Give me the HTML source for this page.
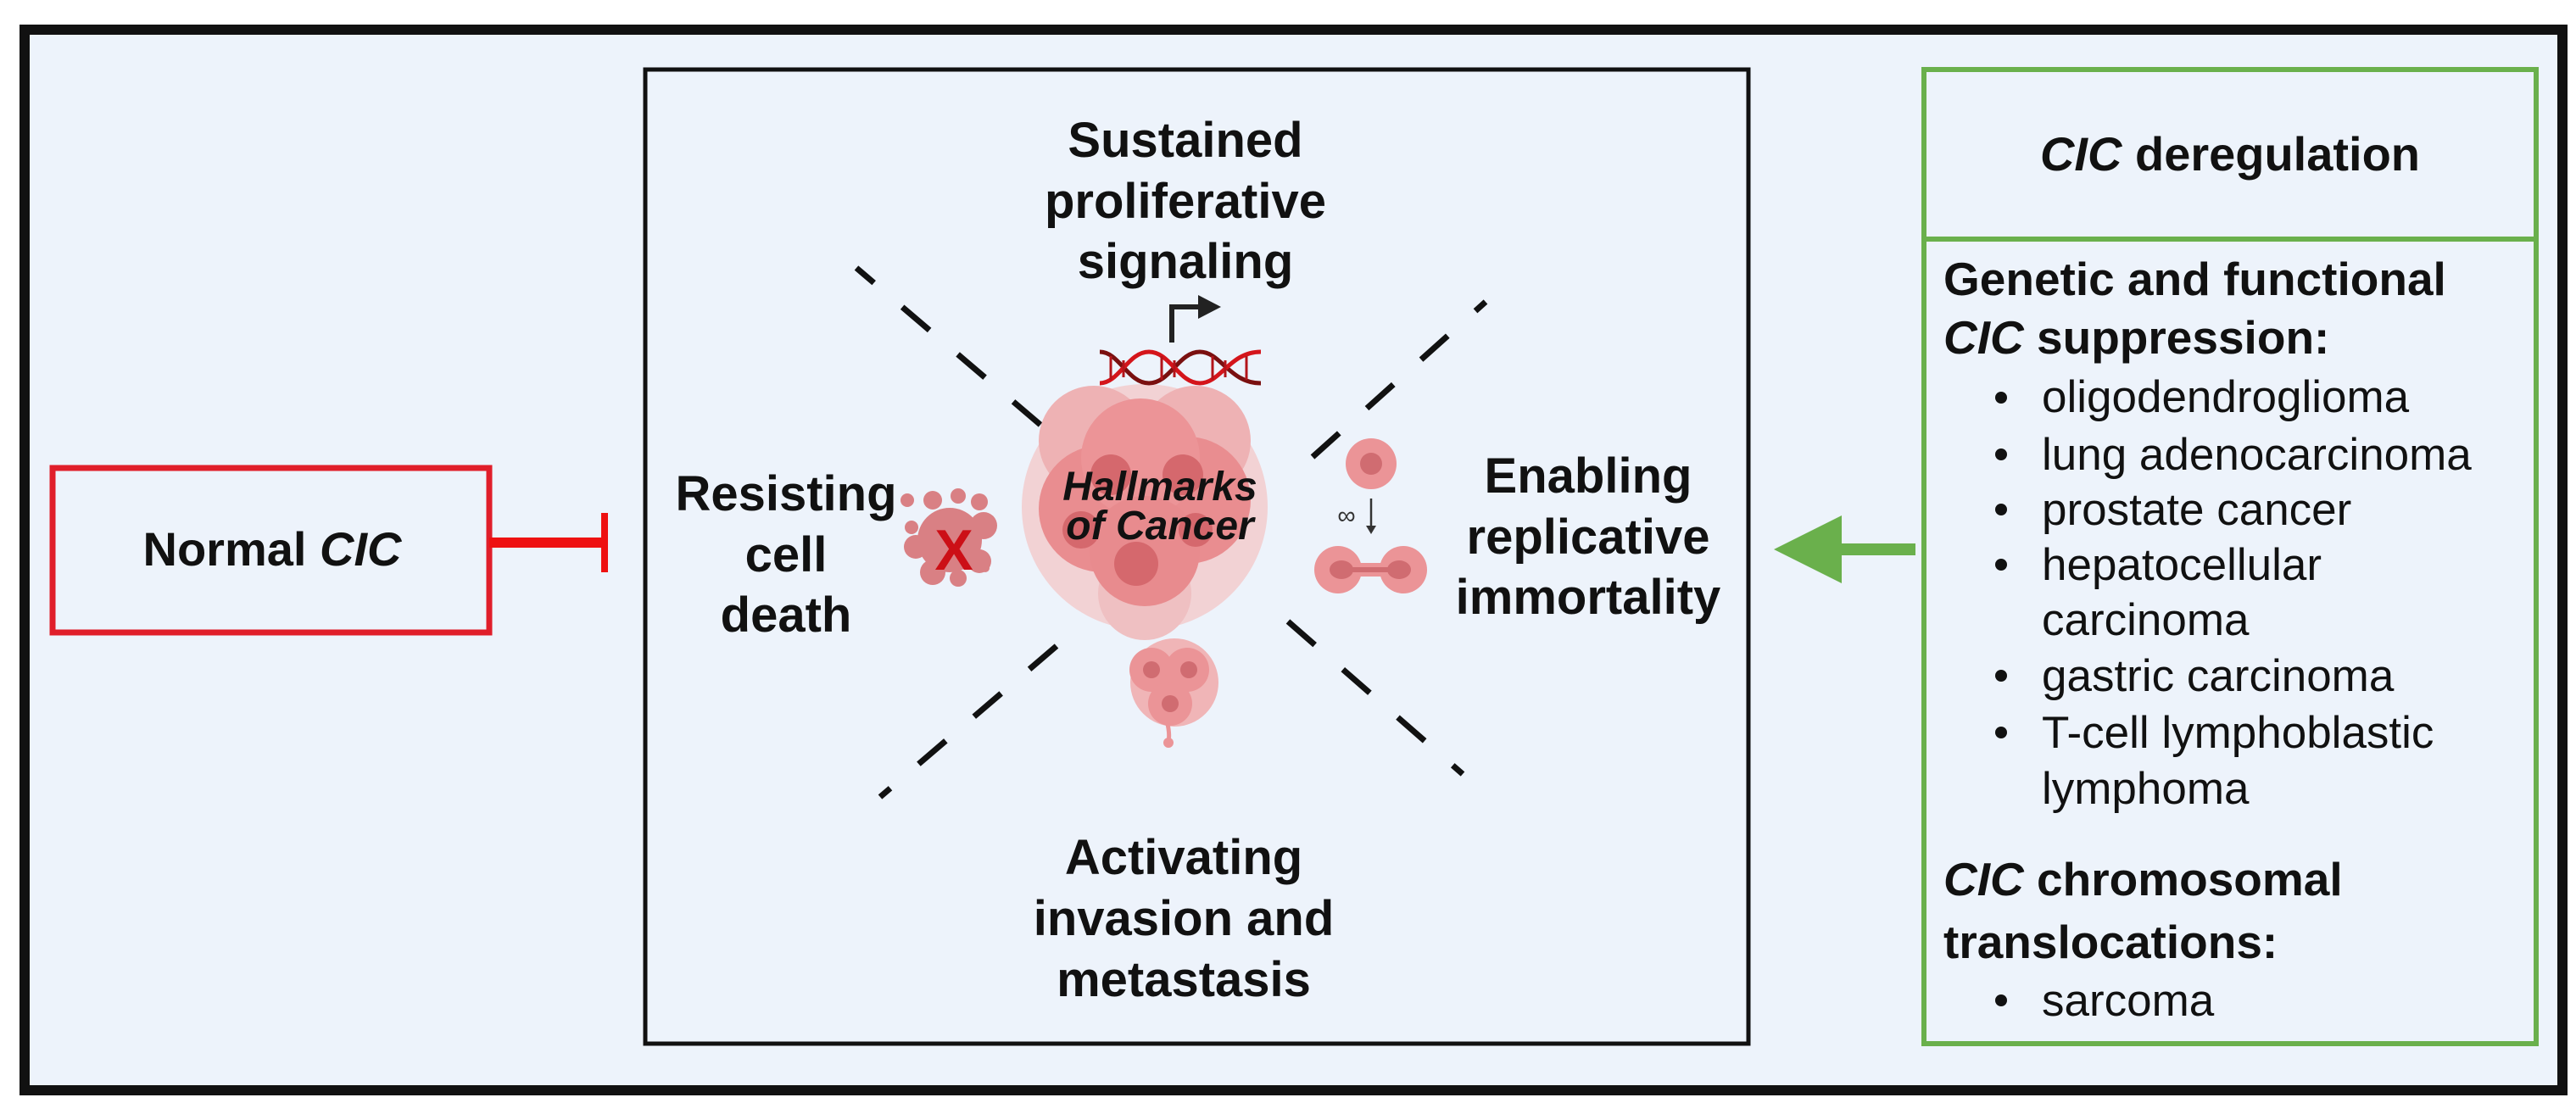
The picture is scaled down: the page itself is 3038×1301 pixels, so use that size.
<!DOCTYPE html>
<html><head><meta charset="utf-8"><style>
html,body{margin:0;padding:0;background:#fff;}
svg{display:block;}
text{font-family:"Liberation Sans",Arial,sans-serif;fill:#111;}
</style></head><body>
<svg width="3038" height="1301" viewBox="0 0 3038 1301" xmlns="http://www.w3.org/2000/svg">
<defs>
<radialGradient id="cg" cx="50%" cy="50%" r="50%">
<stop offset="0" stop-color="#e57f82"/><stop offset="1" stop-color="#eea3a4"/>
</radialGradient>
</defs>
<rect x="0" y="0" width="3038" height="1301" fill="#fff"/>
<rect x="29" y="35" width="2993" height="1251" fill="#edf3fb" stroke="#111" stroke-width="12"/>

<!-- Normal CIC -->
<rect x="62" y="552" width="515" height="194" fill="none" stroke="#e01e2a" stroke-width="7"/>
<text x="321" y="667" font-size="56" font-weight="bold" text-anchor="middle">Normal <tspan font-style="italic">CIC</tspan></text>
<line x1="577" y1="640" x2="713" y2="640" stroke="#ee1111" stroke-width="12"/>
<line x1="713" y1="605" x2="713" y2="675" stroke="#ee1111" stroke-width="8"/>

<!-- central box -->
<rect x="761" y="82" width="1301" height="1149" fill="none" stroke="#111" stroke-width="5"/>

<!-- dashed lines -->
<g stroke="#111" stroke-width="7" stroke-dasharray="42 44" fill="none">
<line x1="1227" y1="501" x2="1010" y2="316"/>
<line x1="1548" y1="539" x2="1752" y2="356"/>
<line x1="1246" y1="762" x2="1038" y2="940"/>
<line x1="1519" y1="733" x2="1725" y2="913"/>
</g>

<!-- tumour cluster -->
<g>
<circle cx="1350" cy="598" r="145" fill="#f3c9cb" opacity="0.8"/>
<circle cx="1290" cy="520" r="65" fill="#eeb2b4"/>
<circle cx="1410" cy="520" r="65" fill="#eeb2b4"/>
<circle cx="1350" cy="700" r="55" fill="#efc0c2"/>
<circle cx="1300" cy="600" r="75" fill="#e98d90"/>
<circle cx="1400" cy="590" r="75" fill="#e98d90"/>
<circle cx="1345" cy="540" r="70" fill="#ec9497"/>
<circle cx="1350" cy="650" r="65" fill="#e88b8e"/>
<circle cx="1310" cy="560" r="24" fill="#d5686d"/>
<circle cx="1395" cy="560" r="24" fill="#d5686d"/>
<circle cx="1275" cy="625" r="22" fill="#d5686d"/>
<circle cx="1340" cy="665" r="26" fill="#d5686d"/>
<circle cx="1410" cy="625" r="20" fill="#d5686d"/>
</g>
<text x="1368" y="590" font-size="48" font-weight="bold" font-style="italic" text-anchor="middle">Hallmarks</text>
<text x="1368" y="636" font-size="48" font-weight="bold" font-style="italic" text-anchor="middle">of Cancer</text>

<!-- DNA -->
<g fill="none" stroke-width="5">
<path d="M1297 415 C1320 415 1330 452 1355 452 S1390 415 1415 415 S1450 452 1487 452" stroke="#7a1010"/>
<path d="M1297 452 C1320 452 1330 415 1355 415 S1390 452 1415 452 S1450 415 1487 415" stroke="#d4151b"/>
<g stroke="#b3141a" stroke-width="3">
<line x1="1310" y1="420" x2="1310" y2="448"/><line x1="1325" y1="425" x2="1325" y2="445"/>
<line x1="1370" y1="420" x2="1370" y2="448"/><line x1="1385" y1="425" x2="1385" y2="445"/>
<line x1="1430" y1="420" x2="1430" y2="448"/><line x1="1445" y1="425" x2="1445" y2="445"/>
<line x1="1470" y1="420" x2="1470" y2="448"/>
</g>
</g>
<!-- bent arrow -->
<path d="M1382 404 V362 H1416" fill="none" stroke="#222" stroke-width="6"/>
<polygon points="1413,348 1440,362 1413,376" fill="#222"/>

<!-- dead cell -->
<g fill="#d98084">
<circle cx="1120" cy="637" r="38"/>
<circle cx="1080" cy="645" r="14"/><circle cx="1160" cy="620" r="16"/>
<circle cx="1155" cy="662" r="14"/><circle cx="1100" cy="675" r="15"/>
<circle cx="1130" cy="682" r="10"/><circle cx="1070" cy="590" r="8"/>
<circle cx="1100" cy="590" r="11"/><circle cx="1130" cy="585" r="9"/><circle cx="1155" cy="592" r="10"/>
<circle cx="1075" cy="622" r="8"/><circle cx="1162" cy="670" r="5"/>
</g>
<text x="1125" y="672" font-size="68" font-weight="bold" text-anchor="middle" style="fill:#cc0f16">X</text>

<!-- replicating cells -->
<circle cx="1617" cy="547" r="30" fill="#eb9497"/>
<circle cx="1617" cy="547" r="13" fill="#d06c71"/>
<text x="1588" y="618" font-size="30" text-anchor="middle" style="fill:#333">∞</text>
<line x1="1617" y1="588" x2="1617" y2="622" stroke="#333" stroke-width="2.5"/>
<polygon points="1611,620 1623,620 1617,630" fill="#333"/>
<circle cx="1578" cy="672" r="28" fill="#eb9497"/>
<circle cx="1655" cy="672" r="28" fill="#eb9497"/>
<rect x="1578" y="664" width="77" height="16" fill="#eb9497"/>
<ellipse cx="1582" cy="672" rx="14" ry="11" fill="#d06c71"/>
<ellipse cx="1650" cy="672" rx="14" ry="11" fill="#d06c71"/>
<rect x="1590" y="669" width="50" height="6" fill="#d06c71"/>

<!-- metastasis cells -->
<g>
<circle cx="1385" cy="805" r="52" fill="#f0b5b7"/>
<circle cx="1358" cy="790" r="26" fill="#eb9497"/><circle cx="1400" cy="790" r="26" fill="#eb9497"/>
<circle cx="1380" cy="830" r="26" fill="#eb9497"/>
<circle cx="1358" cy="790" r="10" fill="#d06c71"/><circle cx="1402" cy="790" r="10" fill="#d06c71"/>
<circle cx="1380" cy="830" r="10" fill="#d06c71"/>
<path d="M1376 850 Q1380 865 1378 875" stroke="#eb9497" stroke-width="5" fill="none"/>
<circle cx="1378" cy="876" r="6" fill="#eb9497"/>
</g>

<!-- central labels -->
<g font-size="58" font-weight="bold" text-anchor="middle">
<text x="1398" y="185">Sustained</text>
<text x="1398" y="257">proliferative</text>
<text x="1398" y="328">signaling</text>
<text x="927" y="602">Resisting</text>
<text x="927" y="674">cell</text>
<text x="927" y="745">death</text>
<text x="1873" y="581">Enabling</text>
<text x="1873" y="653">replicative</text>
<text x="1873" y="724">immortality</text>
<text x="1396" y="1031">Activating</text>
<text x="1396" y="1103">invasion and</text>
<text x="1396" y="1175">metastasis</text>
</g>

<!-- green arrow -->
<line x1="2160" y1="648" x2="2259" y2="648" stroke="#6ab04c" stroke-width="14"/>
<polygon points="2092,648 2172,608 2172,688" fill="#6ab04c"/>

<!-- green box -->
<rect x="2269" y="82" width="722" height="1149" fill="none" stroke="#6ab04c" stroke-width="6"/>
<line x1="2269" y1="282" x2="2991" y2="282" stroke="#6ab04c" stroke-width="6"/>
<text x="2630" y="201" font-size="56" font-weight="bold" text-anchor="middle"><tspan font-style="italic">CIC</tspan> deregulation</text>
<g font-size="55" font-weight="bold">
<text x="2292" y="348">Genetic and functional</text>
<text x="2292" y="417"><tspan font-style="italic">CIC</tspan> suppression:</text>
<text x="2292" y="1056"><tspan font-style="italic">CIC</tspan> chromosomal</text>
<text x="2292" y="1130">translocations:</text>
</g>
<g font-size="53">
<text x="2408" y="486">oligodendroglioma</text>
<text x="2408" y="554">lung adenocarcinoma</text>
<text x="2408" y="619">prostate cancer</text>
<text x="2408" y="684">hepatocellular</text>
<text x="2408" y="749">carcinoma</text>
<text x="2408" y="815">gastric carcinoma</text>
<text x="2408" y="882">T-cell lymphoblastic</text>
<text x="2408" y="948">lymphoma</text>
<text x="2408" y="1198">sarcoma</text>
</g>
<g fill="#111">
<circle cx="2360" cy="469" r="7"/><circle cx="2360" cy="536" r="7"/>
<circle cx="2360" cy="601" r="7"/><circle cx="2360" cy="666" r="7"/>
<circle cx="2360" cy="797" r="7"/><circle cx="2360" cy="864" r="7"/>
<circle cx="2360" cy="1180" r="7"/>
</g>
</svg>
</body></html>
